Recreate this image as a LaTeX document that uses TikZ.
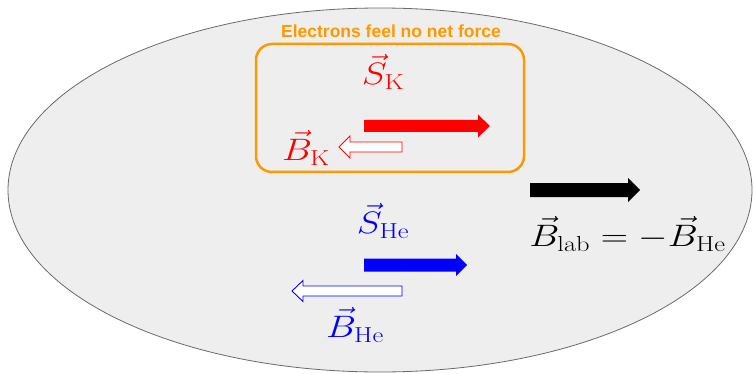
\RequirePackage{fix-cm}
\documentclass[tikz,border=0pt]{standalone}
\usepackage{amsmath}
\usepackage{fontspec}
\newfontfamily\notefont{Liberation Sans}
\usetikzlibrary{positioning}
\definecolor{cellgray}{HTML}{EEEEEE}
\definecolor{rimgray}{HTML}{6A6A6A}
\definecolor{boxorange}{HTML}{FF9900}
\definecolor{kred}{HTML}{FF0000}
\definecolor{heblue}{HTML}{0000FF}

\begin{document}
\begin{tikzpicture}[
    x=1pt, y=-1pt,
    vecl/.style={font=\fontsize{31}{36}\selectfont, inner sep=0pt, xscale=1.22},
    spin/.style={fill=#1, draw=none},
    field/.style={fill=white, draw=#1, line width=0.9pt, line join=miter},
  ]

  % Frame
  \useasboundingbox (0,0) rectangle (754,374);

  % --- Cell ---
  \draw[fill=cellgray, draw=rimgray, line width=0.8pt] (380,190) ellipse [x radius=372, y radius=182];

  % --- Potassium box ---
  \draw[boxorange, line width=2.5pt, rounded corners=16pt] (256,44) rectangle (524,172);
  \node[font=\notefont\bfseries\fontsize{17.5}{21}\selectfont, text=boxorange] (note) at (391,31) {Electrons feel no net force};

  \node[vecl, text=kred] (SK) at (383,72) {$\vec{S}_{\mathrm{K}}$};
  \node[vecl, text=kred] (BK) at (306,148) {$\vec{B}_{\mathrm{K}}$};

  % red spin (filled), red field (hollow)
  \draw[spin=kred] (364,120) -- (478,120) -- (478,114.5) -- (490,126)
    -- (478,137.5) -- (478,132) -- (364,132) -- cycle;
  \draw[field=kred] (402,142) -- (350,142) -- (350,136) -- (339,147)
    -- (350,158) -- (350,152) -- (402,152) -- cycle;

  % --- Helium ---
  \node[vecl, text=heblue] (SHe) at (383,221) {$\vec{S}_{\mathrm{He}}$};
  \node[vecl, text=heblue] (BHe) at (355,325) {$\vec{B}_{\mathrm{He}}$};

  \draw[spin=heblue] (364,258.5) -- (456,258.5) -- (456,254) -- (467,265)
    -- (456,276) -- (456,271.5) -- (364,271.5) -- cycle;
  \draw[field=heblue] (402,286) -- (303,286) -- (303,280.5) -- (292,291)
    -- (303,301.5) -- (303,296) -- (402,296) -- cycle;

  % --- Lab field ---
  \draw[spin=black] (530,183) -- (628,183) -- (628,178) -- (640,190)
    -- (628,202) -- (628,197) -- (530,197) -- cycle;
  \node[vecl, anchor=west] (Blab) at (529,234) {$\vec{B}_{\mathrm{lab}} = -\vec{B}_{\mathrm{He}}$};

\end{tikzpicture}
\end{document}
